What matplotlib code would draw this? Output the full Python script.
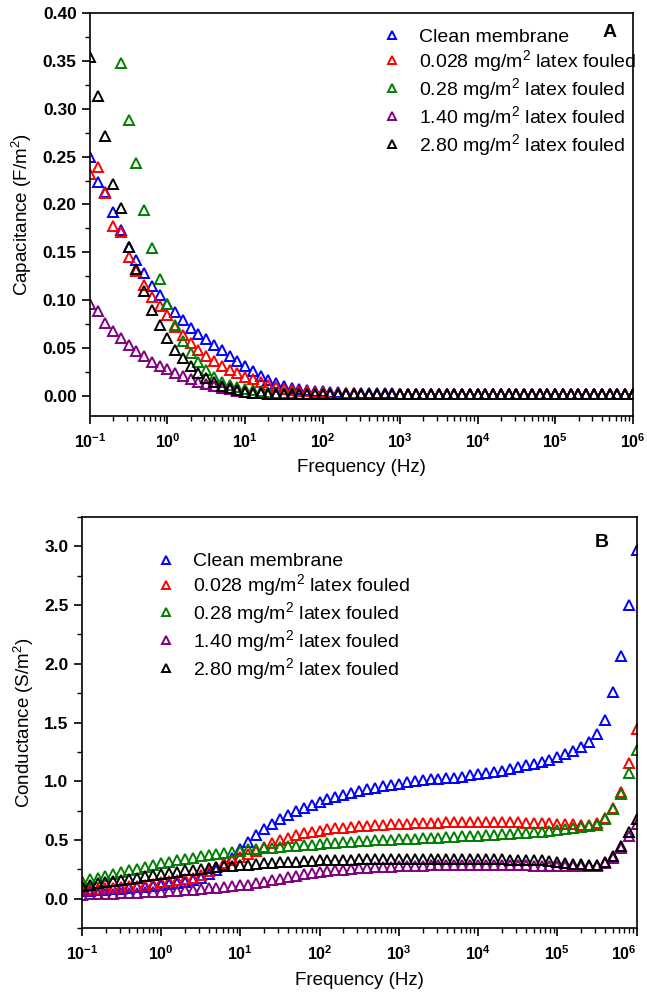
import numpy as np
import matplotlib
matplotlib.use("Agg")
import matplotlib.pyplot as plt
from matplotlib.ticker import LogLocator, MultipleLocator, FixedLocator, NullFormatter

plt.rcParams['font.family'] = ['Liberation Sans', 'DejaVu Sans']
plt.rcParams['mathtext.fontset'] = 'custom'
plt.rcParams['mathtext.rm'] = 'Liberation Sans'
plt.rcParams['mathtext.bf'] = 'Liberation Sans:bold'
plt.rcParams['mathtext.default'] = 'regular'

nan = float('nan')

# measurement grid: 10 points per decade, 0.1 Hz .. 1 MHz
freq = np.logspace(-1, 6, 71)

labels = ["Clean membrane",
          "0.028 mg/m$^{2}$ latex fouled",
          "0.28 mg/m$^{2}$ latex fouled",
          "1.40 mg/m$^{2}$ latex fouled",
          "2.80 mg/m$^{2}$ latex fouled"]
colors = ["#0000ff", "#ff0000", "#008000", "#800080", "#000000"]

# ---- panel A: capacitance (F/m2)
cap_clean = [0.250, 0.224, 0.213, 0.192, 0.173, 0.156, 0.142, 0.128, 0.115, 0.105,
             0.096, 0.087, 0.079, 0.071, 0.065, 0.059, 0.053, 0.048, 0.042, 0.036,
             0.031, 0.026, 0.021, 0.0165, 0.013, 0.0105, 0.0085, 0.007, 0.006, 0.005,
             0.0045, 0.004, 0.0035, 0.003, 0.003, 0.003, 0.0025, 0.0025, 0.0025, 0.0025,
             0.002, 0.002, 0.002, 0.002, 0.002, 0.002, 0.002, 0.002, 0.002, 0.002,
             0.002, 0.002, 0.002, 0.002, 0.002, 0.002, 0.002, 0.002, 0.002, 0.002,
             0.002, 0.002, 0.002, 0.002, 0.002, 0.002, 0.002, 0.002, 0.002, 0.002,
             0.002]
cap_0028 = [0.232, 0.239, 0.212, 0.177, 0.171, 0.145, 0.130, 0.116, 0.103, 0.094,
            0.084, 0.072, 0.063, 0.055, 0.048, 0.041, 0.036, 0.031, 0.027, 0.024,
            0.020, 0.017, 0.014, 0.011, 0.009, 0.0075, 0.006, 0.005, 0.0045, 0.004,
            0.0035, 0.003, 0.003, 0.0025, 0.0025, 0.002, 0.002, 0.002, 0.002, 0.002,
            0.002, 0.002, 0.002, 0.002, 0.002, 0.002, 0.002, 0.002, 0.002, 0.002,
            0.002, 0.002, 0.002, 0.002, 0.002, 0.002, 0.002, 0.002, 0.002, 0.002,
            0.002, 0.002, 0.002, 0.002, 0.002, 0.002, 0.002, 0.002, 0.002, 0.002,
            0.002]
cap_028 = [nan, nan, nan, nan, 0.348, 0.288, 0.243, 0.194, 0.154, 0.1225,
           0.096, 0.074, 0.057, 0.045, 0.035, 0.027, 0.020, 0.0146, 0.011, 0.009,
           0.007, 0.0055, 0.0045, 0.0035, 0.003, 0.0025, 0.0025, 0.002, 0.002, 0.002,
           0.002, 0.002, 0.002, 0.002, 0.002, 0.002, 0.002, 0.002, 0.002, 0.002,
           0.002, 0.002, 0.002, 0.002, 0.002, 0.002, 0.002, 0.002, 0.002, 0.002,
           0.002, 0.002, 0.002, 0.002, 0.002, 0.002, 0.002, 0.002, 0.002, 0.002,
           0.002, 0.002, 0.002, 0.002, 0.002, 0.002, 0.002, 0.002, 0.002, 0.002,
           0.002]
cap_140 = [0.096, 0.089, 0.076, 0.068, 0.060, 0.053, 0.047, 0.041, 0.0355, 0.031,
           0.0275, 0.024, 0.0205, 0.0174, 0.0146, 0.012, 0.010, 0.008, 0.0065, 0.005,
           0.004, 0.003, 0.0025, 0.002, 0.002, 0.002, 0.002, 0.002, 0.002, 0.002,
           0.002, 0.002, 0.002, 0.002, 0.002, 0.002, 0.002, 0.002, 0.002, 0.002,
           0.002, 0.002, 0.002, 0.002, 0.002, 0.002, 0.002, 0.002, 0.002, 0.002,
           0.002, 0.002, 0.002, 0.002, 0.002, 0.002, 0.002, 0.002, 0.002, 0.002,
           0.002, 0.002, 0.002, 0.002, 0.002, 0.002, 0.002, 0.002, 0.002, 0.002,
           0.002]
cap_280 = [0.354, 0.313, 0.272, 0.221, 0.196, 0.156, 0.133, 0.109, 0.0895, 0.074,
           0.060, 0.048, 0.039, 0.031, 0.024, 0.019, 0.014, 0.010, 0.0077, 0.006,
           0.0042, 0.003, 0.0025, 0.002, 0.0015, 0.0015, 0.0015, 0.0015, 0.0015, 0.0015,
           0.0015, 0.0015, 0.0015, 0.0015, 0.0015, 0.0015, 0.0015, 0.0015, 0.0015, 0.0015,
           0.0015, 0.0015, 0.0015, 0.0015, 0.0015, 0.0015, 0.0015, 0.0015, 0.0015, 0.0015,
           0.0015, 0.0015, 0.0015, 0.0015, 0.0015, 0.0015, 0.0015, 0.0015, 0.0015, 0.0015,
           0.0015, 0.0015, 0.0015, 0.0015, 0.0015, 0.0015, 0.0015, 0.0015, 0.0015, 0.0015,
           0.0015]

# ---- panel B: conductance (S/m2)
cond_clean = [0.065, 0.068, 0.072, 0.076, 0.080, 0.085, 0.090, 0.095, 0.100, 0.107,
              0.115, 0.125, 0.135, 0.145, 0.160, 0.180, 0.210, 0.245, 0.290, 0.350,
              0.420, 0.480, 0.540, 0.590, 0.635, 0.675, 0.710, 0.745, 0.775, 0.800,
              0.825, 0.845, 0.865, 0.885, 0.900, 0.915, 0.930, 0.945, 0.960, 0.970,
              0.980, 0.990, 1.000, 1.010, 1.015, 1.020, 1.025, 1.030, 1.040, 1.050,
              1.060, 1.070, 1.080, 1.090, 1.100, 1.120, 1.135, 1.150, 1.165, 1.185,
              1.205, 1.230, 1.255, 1.290, 1.335, 1.400, 1.520, 1.760, 2.070, 2.500,
              2.970]
cond_0028 = [0.075, 0.079, 0.083, 0.087, 0.092, 0.098, 0.104, 0.111, 0.120, 0.128,
             0.138, 0.148, 0.158, 0.168, 0.180, 0.200, 0.235, 0.270, 0.300, 0.330,
             0.355, 0.380, 0.410, 0.440, 0.470, 0.500, 0.520, 0.540, 0.555, 0.570,
             0.580, 0.590, 0.600, 0.605, 0.610, 0.615, 0.620, 0.625, 0.630, 0.633,
             0.636, 0.640, 0.643, 0.645, 0.647, 0.648, 0.650, 0.650, 0.650, 0.650,
             0.650, 0.650, 0.650, 0.650, 0.650, 0.650, 0.648, 0.646, 0.644, 0.642,
             0.640, 0.637, 0.633, 0.630, 0.628, 0.645, 0.690, 0.770, 0.910, 1.156,
             1.445]
cond_028 = [0.150, 0.165, 0.180, 0.195, 0.210, 0.225, 0.240, 0.255, 0.270, 0.285,
            0.300, 0.310, 0.325, 0.335, 0.345, 0.360, 0.370, 0.380, 0.390, 0.400,
            0.410, 0.420, 0.425, 0.430, 0.435, 0.440, 0.445, 0.450, 0.455, 0.460,
            0.465, 0.470, 0.475, 0.480, 0.485, 0.490, 0.493, 0.496, 0.500, 0.503,
            0.506, 0.509, 0.512, 0.515, 0.518, 0.520, 0.523, 0.526, 0.530, 0.533,
            0.536, 0.540, 0.543, 0.547, 0.550, 0.555, 0.560, 0.565, 0.570, 0.577,
            0.585, 0.592, 0.600, 0.607, 0.615, 0.630, 0.680, 0.760, 0.890, 1.070,
            1.270]
cond_140 = [0.035, 0.037, 0.039, 0.041, 0.043, 0.045, 0.048, 0.051, 0.054, 0.057,
            0.060, 0.064, 0.068, 0.072, 0.076, 0.082, 0.088, 0.094, 0.100, 0.107,
            0.115, 0.120, 0.130, 0.140, 0.155, 0.170, 0.185, 0.197, 0.208, 0.218,
            0.226, 0.233, 0.240, 0.246, 0.252, 0.257, 0.262, 0.266, 0.270, 0.273,
            0.276, 0.278, 0.280, 0.282, 0.284, 0.285, 0.286, 0.287, 0.288, 0.288,
            0.288, 0.288, 0.288, 0.287, 0.286, 0.285, 0.284, 0.282, 0.280, 0.278,
            0.276, 0.275, 0.274, 0.274, 0.275, 0.280, 0.300, 0.350, 0.430, 0.530,
            0.640]
cond_280 = [0.110, 0.120, 0.130, 0.140, 0.150, 0.160, 0.170, 0.180, 0.190, 0.200,
            0.210, 0.220, 0.230, 0.240, 0.245, 0.255, 0.260, 0.268, 0.275, 0.280,
            0.285, 0.290, 0.295, 0.300, 0.305, 0.310, 0.313, 0.316, 0.320, 0.323,
            0.326, 0.328, 0.330, 0.332, 0.333, 0.335, 0.336, 0.337, 0.338, 0.338,
            0.338, 0.338, 0.338, 0.338, 0.338, 0.337, 0.337, 0.336, 0.336, 0.335,
            0.335, 0.335, 0.334, 0.334, 0.333, 0.333, 0.332, 0.330, 0.325, 0.318,
            0.310, 0.302, 0.296, 0.292, 0.290, 0.290, 0.315, 0.365, 0.446, 0.565,
            0.680]

cap_series = [cap_clean, cap_0028, cap_028, cap_140, cap_280]
cond_series = [cond_clean, cond_0028, cond_028, cond_140, cond_280]


def style_axis(ax, ylim, ymajor, yminor, yfmt):
    ax.set_xscale('log')
    ax.set_xlim(0.1, 1e6)
    ax.set_ylim(*ylim)
    ax.xaxis.set_major_locator(FixedLocator([10.0 ** e for e in range(-1, 7)]))
    ax.xaxis.set_minor_locator(LogLocator(base=10, subs=np.arange(2, 10), numticks=20))
    ax.xaxis.set_minor_formatter(NullFormatter())
    ax.set_xticklabels([r'$\mathbf{10^{%d}}$' % e for e in range(-1, 7)])
    ax.yaxis.set_major_locator(MultipleLocator(ymajor))
    ax.yaxis.set_minor_locator(MultipleLocator(yminor))
    ax.yaxis.set_major_formatter(plt.FormatStrFormatter(yfmt))
    ax.tick_params(which='major', direction='out', length=6, width=1.2,
                   top=False, right=False)
    ax.tick_params(which='minor', direction='out', length=3.5, width=1.0,
                   top=False, right=False)
    ax.tick_params(axis='y', labelsize=12.5)
    ax.tick_params(axis='x', labelsize=11.5, pad=6)
    for lab in ax.get_yticklabels():
        lab.set_fontweight('bold')
    for sp in ax.spines.values():
        sp.set_linewidth(1.2)
    ax.set_xlabel("Frequency (Hz)", fontsize=13.5, labelpad=6)


fig = plt.figure(figsize=(6.47, 9.97), dpi=100)
ax1 = fig.add_axes([0.139, 0.583, 0.839, 0.4037])
ax2 = fig.add_axes([0.1263, 0.0692, 0.8577, 0.4122])

for vals, lab, c in zip(cap_series, labels, colors):
    ax1.plot(freq, vals, linestyle='none', marker='^', ms=7.5, mfc='none',
             mec=c, mew=1.4, label=lab)
for vals, lab, c in zip(cond_series, labels, colors):
    ax2.plot(freq, vals, linestyle='none', marker='^', ms=7.5, mfc='none',
             mec=c, mew=1.4, label=lab)

style_axis(ax1, (-0.021, 0.40), 0.05, 0.025, '%.2f')
style_axis(ax2, (-0.25, 3.25), 0.5, 0.25, '%.1f')
ax1.set_ylabel("Capacitance (F/m$^{2}$)", fontsize=13.5, labelpad=6)
ax2.set_ylabel("Conductance (S/m$^{2}$)", fontsize=13.5, labelpad=6)

# last decade label of panel B sits at the figure edge; keep it inside
ax2.get_xticklabels()[-1].set_horizontalalignment('right')

leg_kw = dict(frameon=False, fontsize=14, markerscale=0.75, handlelength=1.0,
              handletextpad=0.9, labelspacing=0.1, borderpad=0, borderaxespad=0)
ax1.legend(loc='upper left', bbox_to_anchor=(0.538, 0.962), **leg_kw)
ax2.legend(loc='upper left', bbox_to_anchor=(0.134, 0.913), **leg_kw)

ax1.text(0.958, 0.953, "A", transform=ax1.transAxes, ha='center', va='center',
         fontsize=14, fontweight='bold')
ax2.text(0.9375, 0.939, "B", transform=ax2.transAxes, ha='center', va='center',
         fontsize=14, fontweight='bold')

fig.savefig("out.png", dpi=100)
